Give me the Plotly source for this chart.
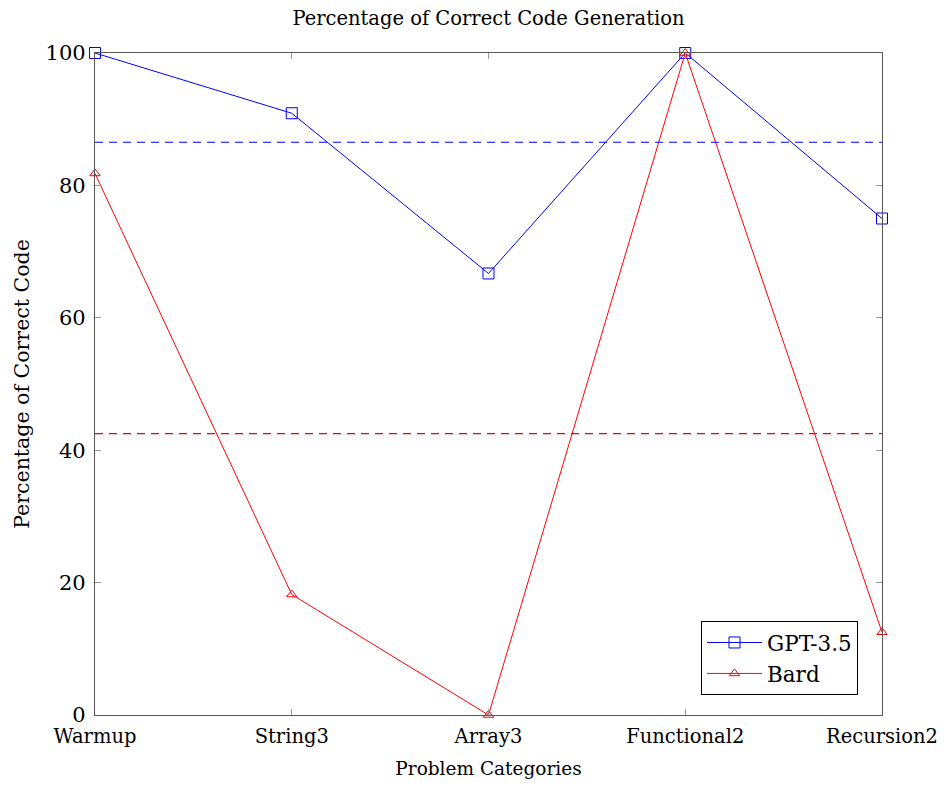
import plotly.graph_objects as go

categories = ["Warmup", "String3", "Array3", "Functional2", "Recursion2"]
gpt35 = [100, 90.9, 66.7, 100, 75]
bard = [81.8, 18.2, 0, 100, 12.5]
y_ticks = [0, 20, 40, 60, 80, 100]

gpt_mean = sum(gpt35) / len(gpt35)
bard_mean = sum(bard) / len(bard)

FONT = "DejaVu Serif"
W, H = 930, 771  # page body has an 8px margin on every side

fig = go.Figure()
fig.add_trace(go.Scatter(
    x=categories, y=gpt35, name="GPT-3.5", mode="lines+markers",
    line=dict(color="blue", width=1),
    marker=dict(symbol="square-open", size=11, color="blue", line=dict(width=1)),
    cliponaxis=False,
))
fig.add_trace(go.Scatter(
    x=categories, y=bard, name="Bard", mode="lines+markers",
    line=dict(color="red", width=1),
    marker=dict(symbol="triangle-up-open", size=9, color="red", line=dict(width=1)),
    cliponaxis=False,
))

fig.add_hline(y=gpt_mean, line=dict(color="blue", width=1.2, dash="8px,6px"))
fig.add_hline(y=bard_mean, line=dict(color="#ff0000", width=1.2, dash="8px,6px"))

fig.update_layout(
    width=W, height=H,
    margin=dict(l=87, r=56, t=45, b=64),
    paper_bgcolor="white", plot_bgcolor="white",
    font=dict(family=FONT, size=21, color="black"),
    title=dict(text="Percentage of Correct Code Generation", x=0.5, xref="paper",
               xanchor="center", y=1 - 10 / H, yanchor="middle", font=dict(size=19.5)),
    legend=dict(x=(858 - 95) / 787, y=(715 - 695) / 662, xanchor="right", yanchor="bottom",
                bordercolor="black", borderwidth=1, bgcolor="white",
                font=dict(size=21.5), itemwidth=55, tracegroupgap=2),
    showlegend=True,
)
fig.update_xaxes(
    type="category", range=[0, 4], showgrid=False, zeroline=False, automargin=False,
    showline=True, linecolor="#555", linewidth=1.3, mirror="ticks",
    ticks="inside", ticklen=6, tickcolor="#999", ticklabelstandoff=3,
    tickfont=dict(size=19.5),
    title=dict(text="Problem Categories", font=dict(size=18.5), standoff=18),
)
fig.update_yaxes(
    range=[0, 100], tickvals=y_ticks, showgrid=False, zeroline=False, automargin=False,
    showline=True, linecolor="#555", linewidth=1.3, mirror="ticks",
    ticks="inside", ticklen=6, tickcolor="#999", ticklabelstandoff=4,
    tickfont=dict(size=21),
    title=dict(text="Percentage of Correct Code", font=dict(size=20.5), standoff=10),
)

fig.write_html("out.html")
